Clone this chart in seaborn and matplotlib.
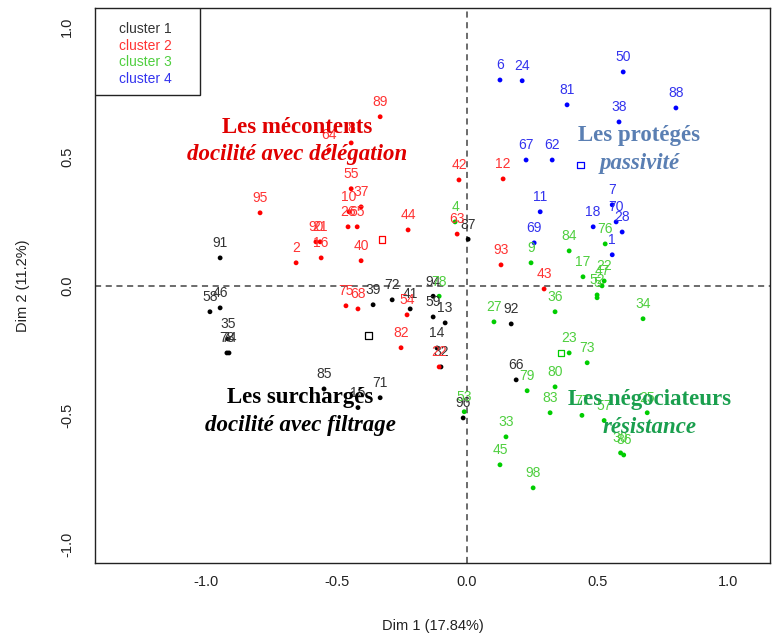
import matplotlib
matplotlib.use("Agg")
import matplotlib.pyplot as plt
from matplotlib.patches import Rectangle
import seaborn as sns
import pandas as pd

# ---------------- data ----------------
c1_labels = ["91", "58", "46", "35", "78", "74", "85", "71", "15", "39", "72", "41", "94",
             "59", "13", "14", "32", "87", "92", "66", "96"]
c1_x = [-0.946, -0.985, -0.946, -0.916, -0.920, -0.912, -0.548, -0.333, -0.418, -0.360, -0.287,
        -0.218, -0.130, -0.130, -0.084, -0.115, -0.100, 0.004, 0.169, 0.188, -0.015]
c1_y = [0.108, -0.100, -0.085, -0.205, -0.259, -0.259, -0.398, -0.432, -0.470, -0.073, -0.054,
        -0.089, -0.040, -0.120, -0.143, -0.240, -0.313, 0.180, -0.147, -0.363, -0.510]

c2_labels = ["95", "2", "90", "21", "16", "75", "68", "54", "82", "22", "40", "44", "55", "37",
             "10", "26", "65", "64", "8", "89", "42", "12", "63", "93", "43"]
c2_x = [-0.793, -0.655, -0.579, -0.563, -0.559, -0.464, -0.418, -0.230, -0.253, -0.107, -0.406,
        -0.226, -0.444, -0.406, -0.452, -0.456, -0.421, -0.529, -0.444, -0.333, -0.031, 0.138,
        -0.038, 0.130, 0.295]
c2_y = [0.282, 0.089, 0.170, 0.170, 0.108, -0.077, -0.089, -0.112, -0.239, -0.313, 0.097, 0.216,
        0.375, 0.305, 0.286, 0.228, 0.228, 0.525, 0.552, 0.653, 0.409, 0.413, 0.200, 0.081,
        -0.012]

c3_labels = ["84", "76", "17", "22", "47", "52", "5", "9", "4", "78", "27", "36", "34", "23",
             "73", "80", "79", "83", "57", "77", "25", "86", "30", "53", "33", "45", "98"]
c3_x = [0.391, 0.529, 0.444, 0.525, 0.517, 0.498, 0.498, 0.245, -0.046, -0.107, 0.103, 0.337,
        0.674, 0.391, 0.460, 0.337, 0.230, 0.318, 0.525, 0.440, 0.690, 0.600, 0.588, -0.011,
        0.149, 0.126, 0.253]
c3_y = [0.135, 0.162, 0.035, 0.019, 0.000, -0.035, -0.046, 0.089, 0.247, -0.040, -0.139, -0.100,
        -0.127, -0.259, -0.297, -0.390, -0.405, -0.490, -0.520, -0.500, -0.490, -0.653, -0.645,
        -0.486, -0.583, -0.691, -0.780]

c4_labels = ["6", "24", "81", "50", "88", "38", "67", "62", "11", "7", "70", "28", "18", "1", "69"]
c4_x = [0.126, 0.211, 0.383, 0.598, 0.800, 0.582, 0.226, 0.326, 0.280, 0.556, 0.571, 0.594,
        0.483, 0.556, 0.257]
c4_y = [0.795, 0.792, 0.699, 0.826, 0.687, 0.633, 0.486, 0.486, 0.286, 0.313, 0.247, 0.208,
        0.228, 0.120, 0.166]

cluster_names = ["cluster 1", "cluster 2", "cluster 3", "cluster 4"]
centroid_x = [-0.379, -0.326, 0.360, 0.433]
centroid_y = [-0.193, 0.178, -0.259, 0.467]

group_titles = ["Les surchargés", "Les mécontents", "Les négociateurs", "Les protégés"]
group_subtitles = ["docilité avec filtrage", "docilité avec délégation", "résistance", "passivité"]
group_text_x = [-0.64, -0.65, 0.70, 0.66]
group_text_y = [-0.432, 0.612, -0.44, 0.579]

x_ticks = [-1.0, -0.5, 0.0, 0.5, 1.0]
x_tick_labels = ["-1.0", "-0.5", "0.0", "0.5", "1.0"]
y_ticks = [-1.0, -0.5, 0.0, 0.5, 1.0]
y_tick_labels = ["-1.0", "-0.5", "0.0", "0.5", "1.0"]

# ---------------- styling ----------------
dot_colors = {"cluster 1": "#000000", "cluster 2": "#ff0000", "cluster 3": "#00cd00", "cluster 4": "#0000ff"}
label_colors = {"cluster 1": "#333333", "cluster 2": "#ff3333", "cluster 3": "#4fcf3f", "cluster 4": "#3333ee"}
title_colors = ["#000000", "#e00000", "#1a9f4e", "#5a7fb3"]

rows = []
for name, labs, xs, ys in zip(cluster_names,
                              [c1_labels, c2_labels, c3_labels, c4_labels],
                              [c1_x, c2_x, c3_x, c4_x],
                              [c1_y, c2_y, c3_y, c4_y]):
    for l, x, y in zip(labs, xs, ys):
        rows.append({"label": l, "Dim1": x, "Dim2": y, "cluster": name})
df = pd.DataFrame(rows)
cent = pd.DataFrame({"cluster": cluster_names, "Dim1": centroid_x, "Dim2": centroid_y})

sns.set_style("white")
plt.rcParams["font.family"] = ["Liberation Sans", "DejaVu Sans"]

fig = plt.figure(figsize=(7.73, 6.39), dpi=100)
ax = fig.add_axes([0.123, 0.119, 0.873, 0.8685])

ax.axhline(0, color="#444444", lw=1.1, ls=(0, (4, 3)), zorder=1)
ax.axvline(0, color="#444444", lw=1.1, ls=(0, (4, 3)), zorder=1)

sns.scatterplot(data=df, x="Dim1", y="Dim2", hue="cluster", palette=dot_colors,
                s=12, linewidth=0, legend=False, ax=ax, zorder=3)
sns.scatterplot(data=cent, x="Dim1", y="Dim2", hue="cluster", palette=dot_colors,
                marker="s", s=24, facecolor="none", linewidth=0.9, legend=False, ax=ax, zorder=3)
coll = ax.collections[-1]
coll.set_edgecolors([dot_colors[c] for c in cluster_names])
coll.set_facecolors("none")

for _, r in df.iterrows():
    ax.annotate(r["label"], (r["Dim1"], r["Dim2"]), xytext=(0, 10.5), textcoords="offset points",
                ha="center", va="center", fontsize=10, color=label_colors[r["cluster"]], zorder=4)

for t, s, tx, ty, col in zip(group_titles, group_subtitles, group_text_x, group_text_y, title_colors):
    ax.text(tx, ty, t, ha="center", va="center", fontsize=16.5, fontweight="bold",
            family="Liberation Serif", color=col, zorder=5)
    ax.text(tx, ty - 0.106, s, ha="center", va="center", fontsize=16.5, fontweight="bold",
            fontstyle="italic", family="Liberation Serif", color=col, zorder=5)

ax.set_xlim(-1.425, 1.16)
ax.set_ylim(-1.07, 1.073)
ax.set_xticks(x_ticks)
ax.set_xticklabels(x_tick_labels)
ax.set_yticks(y_ticks)
ax.set_yticklabels(y_tick_labels, rotation=90, va="center")
ax.tick_params(axis="both", direction="out", length=6, width=0.9, colors="#222222",
               labelsize=10.5, labelcolor="#222222")
ax.tick_params(axis="x", pad=3)
ax.tick_params(axis="y", pad=9)
ax.set_xlabel("Dim 1 (17.84%)", fontsize=10.5, color="#222222", labelpad=21)
ax.set_ylabel("Dim 2 (11.2%)", fontsize=10.5, color="#222222", labelpad=22)
for sp in ax.spines.values():
    sp.set_visible(True)
    sp.set_color("#222222")
    sp.set_linewidth(1.0)

# legend box (R style: coloured text, no symbols)
ax.add_patch(Rectangle((0, 1 - 0.1568), 0.1556, 0.1568, transform=ax.transAxes,
                       facecolor="white", edgecolor="#222222", linewidth=1.0, zorder=6))
leg_y = [0.962, 0.9315, 0.9027, 0.872]
for name, ly in zip(cluster_names, leg_y):
    ax.text(0.0356, ly, name, transform=ax.transAxes, ha="left", va="center",
            fontsize=10, color=label_colors[name], zorder=7)

fig.savefig("out.png", dpi=100)
